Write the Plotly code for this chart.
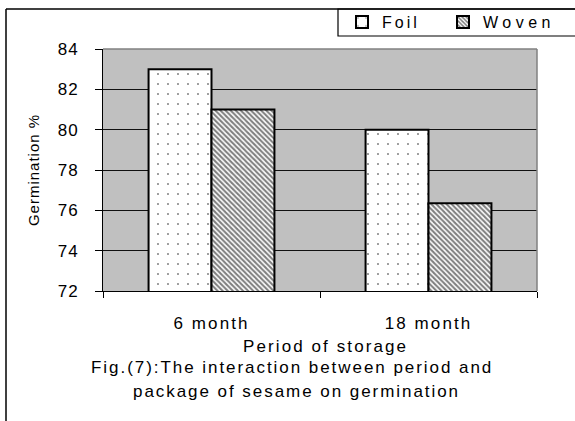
import plotly.graph_objects as go

# data
periods = ["6 month", "18 month"]
foil = [83.0, 80.0]
woven = [81.0, 76.35]
y_ticks = [72, 74, 76, 78, 80, 82, 84]

FONT = "Liberation Sans, Arial, sans-serif"
W, H = 575, 421
L, R, T, B = 103, 38, 49, 130


def spaced(text, px=2.1):
    return f'<span style="letter-spacing:{px}px">{text}</span>'


def py(y):
    # pixel row -> paper y
    return (H - B - y) / (H - T - B)


def px_(x):
    return (x - L) / (W - L - R)


fig = go.Figure()
fig.add_bar(
    x=periods, y=foil, name=spaced("Foil", 3), legend="legend",
    marker=dict(color="white", line=dict(color="black", width=2),
                pattern=dict(shape=".", size=10, solidity=0.03,
                             fgcolor="black", bgcolor="white")),
)
fig.add_bar(
    x=periods, y=woven, name=spaced("Woven", 4.5), legend="legend2",
    marker=dict(color="white", line=dict(color="black", width=2),
                pattern=dict(shape="\\", size=3.6, solidity=0.55,
                             fgcolor="black", bgcolor="white")),
)

leg = dict(orientation="h", y=py(5), xanchor="left", yanchor="top",
           bgcolor="rgba(0,0,0,0)", borderwidth=0, font=dict(size=16))
fig.update_layout(
    width=W, height=H,
    margin=dict(l=L, r=R, t=T, b=B, pad=0, autoexpand=False),
    paper_bgcolor="white", plot_bgcolor="#c0c0c0",
    font=dict(family=FONT, size=17, color="black"),
    barmode="group", bargap=0.42, bargroupgap=0,
    showlegend=True,
    legend=dict(leg, x=px_(342)),
    legend2=dict(leg, x=px_(443)),
)
fig.update_xaxes(
    showline=True, linecolor="black", linewidth=1,
    ticks="outside", tickson="boundaries", ticklen=6, tickcolor="black",
    tickfont=dict(size=17), ticktext=[spaced(p) for p in periods], tickvals=periods,
    ticklabelstandoff=17, showgrid=False,
)
fig.update_yaxes(
    range=[72, 84], tickvals=y_ticks, ticktext=[spaced(str(v), 1) for v in y_ticks],
    tickfont=dict(size=17),
    showline=True, linecolor="black", linewidth=1,
    ticks="outside", ticklen=7, tickcolor="black", ticklabelstandoff=13,
    showgrid=True, gridcolor="#111", gridwidth=1, zeroline=False,
    title=dict(text=spaced("Germination %", 1), font=dict(size=15), standoff=14),
)

# outer frame, legend box and plot-area border
fig.add_shape(type="line", xref="paper", yref="paper", x0=px_(6), x1=px_(6), y0=py(9), y1=py(430),
              line=dict(color="black", width=1.5))
fig.add_shape(type="line", xref="paper", yref="paper", x0=px_(6), x1=px_(600), y0=py(9), y1=py(9),
              line=dict(color="black", width=1.5))
fig.add_shape(type="rect", xref="paper", yref="paper", x0=px_(338), x1=px_(600), y0=py(9), y1=py(36),
              line=dict(color="black", width=1.2))
fig.add_shape(type="line", xref="paper", yref="paper", x0=0, x1=1, y0=1, y1=1,
              line=dict(color="#808080", width=1.5))
fig.add_shape(type="line", xref="paper", yref="paper", x0=1, x1=1, y0=0, y1=1,
              line=dict(color="#808080", width=1.5))

fig.add_annotation(text=spaced("Period of storage"), xref="paper", yref="paper",
                   x=px_(325), y=py(346), showarrow=False, xanchor="center", yanchor="middle",
                   font=dict(size=17))
fig.add_annotation(text=spaced("Fig.(7):The interaction between period and", 1.95), xref="paper", yref="paper",
                   x=px_(292), y=py(367), showarrow=False, xanchor="center", yanchor="middle",
                   font=dict(size=17))
fig.add_annotation(text=spaced("package of sesame on germination", 1.95), xref="paper", yref="paper",
                   x=px_(296), y=py(391), showarrow=False, xanchor="center", yanchor="middle",
                   font=dict(size=17))

fig.write_html("out.html", config={"displayModeBar": False},
               post_script="document.body.style.margin='0';")
